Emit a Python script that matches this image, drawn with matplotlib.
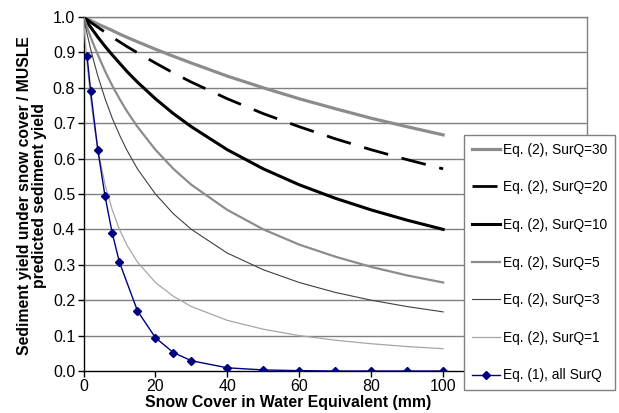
import matplotlib
matplotlib.use("Agg")
import matplotlib.pyplot as plt

plt.rcParams['font.family'] = ['Liberation Sans', 'DejaVu Sans']

# Snow cover (mm) at which Eq. (2) curves were read
snow_eq2 = [0, 0.5, 1, 2, 3, 4, 6, 8, 10, 12, 15, 20, 25, 30, 40, 50, 60, 70, 80, 90, 100]
surq30 = [1.0, 0.998, 0.995, 0.990, 0.985, 0.980, 0.971, 0.962, 0.952, 0.943, 0.930, 0.909, 0.889, 0.870, 0.833, 0.800, 0.769, 0.741, 0.714, 0.690, 0.667]
surq20 = [1.0, 0.996, 0.993, 0.985, 0.978, 0.971, 0.957, 0.943, 0.930, 0.917, 0.899, 0.870, 0.842, 0.816, 0.769, 0.727, 0.690, 0.656, 0.625, 0.597, 0.571]
surq10 = [1.0, 0.993, 0.985, 0.971, 0.957, 0.943, 0.917, 0.893, 0.870, 0.847, 0.816, 0.769, 0.727, 0.690, 0.625, 0.571, 0.526, 0.488, 0.455, 0.426, 0.400]
surq5 = [1.0, 0.985, 0.971, 0.943, 0.917, 0.893, 0.847, 0.806, 0.769, 0.735, 0.690, 0.625, 0.571, 0.526, 0.455, 0.400, 0.357, 0.323, 0.294, 0.270, 0.250]
surq3 = [1.0, 0.976, 0.952, 0.909, 0.870, 0.833, 0.769, 0.714, 0.667, 0.625, 0.571, 0.500, 0.444, 0.400, 0.333, 0.286, 0.250, 0.222, 0.200, 0.182, 0.167]
surq1 = [1.0, 0.930, 0.870, 0.769, 0.690, 0.625, 0.526, 0.455, 0.400, 0.357, 0.308, 0.250, 0.211, 0.182, 0.143, 0.118, 0.100, 0.087, 0.077, 0.069, 0.063]

# Eq. (1) marker points
snow_eq1 = [1, 2, 4, 6, 8, 10, 15, 20, 25, 30, 40, 50, 60, 70, 80, 90, 100]
eq1 = [0.889, 0.790, 0.623, 0.493, 0.389, 0.307, 0.170, 0.094, 0.052, 0.029, 0.009, 0.003, 0.001, 0.0, 0.0, 0.0, 0.0]

x_ticks = [0, 20, 40, 60, 80, 100]
y_ticks = [0.0, 0.1, 0.2, 0.3, 0.4, 0.5, 0.6, 0.7, 0.8, 0.9, 1.0]

fig = plt.figure(figsize=(6.19, 4.13), dpi=100)
ax = fig.add_axes([83.5 / 619, 1 - 371 / 413, (587 - 83.5) / 619, (371 - 17) / 413])

for yv in y_ticks[1:]:
    ax.axhline(yv, color='#808080', lw=1.0, zorder=1)

ax.plot(snow_eq2, surq30, color='#8c8c8c', lw=2.3, label='Eq. (2), SurQ=30', zorder=3)
ax.plot(snow_eq2, surq20, color='black', lw=2.0, dashes=(9, 5), label='Eq. (2), SurQ=20', zorder=3)
ax.plot(snow_eq2, surq10, color='black', lw=2.2, label='Eq. (2), SurQ=10', zorder=3)
ax.plot(snow_eq2, surq5, color='#8c8c8c', lw=1.6, label='Eq. (2), SurQ=5', zorder=3)
ax.plot(snow_eq2, surq3, color='#404040', lw=0.8, label='Eq. (2), SurQ=3', zorder=3)
ax.plot(snow_eq2, surq1, color='#a6a6a6', lw=0.9, label='Eq. (2), SurQ=1', zorder=3)
ax.plot(snow_eq1, eq1, color='#000080', lw=1.0, marker='D', markersize=4.5,
        label='Eq. (1), all SurQ', zorder=4)

ax.set_xlim(0, 140)
ax.set_ylim(0, 1.0)
ax.set_xticks(x_ticks)
ax.set_xticklabels([str(v) for v in x_ticks])
ax.set_yticks(y_ticks)
ax.set_yticklabels([f"{v:.1f}" for v in y_ticks])
ax.tick_params(axis='both', direction='out', length=4, width=1, labelsize=11.5, pad=2)

ax.spines['left'].set_color('black')
ax.spines['bottom'].set_color('black')
ax.spines['top'].set_color('#808080')
ax.spines['right'].set_color('#808080')
for s in ax.spines.values():
    s.set_linewidth(1.0)

fig.text(288 / 619, 1 - 403 / 413, 'Snow Cover in Water Equivalent (mm)', ha='center', va='center',
         fontsize=11.4, fontweight='bold')
fig.text(32 / 619, 1 - 196 / 413, 'Sediment yield under snow cover / MUSLE\npredicted sediment yield',
         rotation=90, ha='center', va='center', fontsize=11.3, fontweight='bold', linespacing=1.05)

leg = fig.legend(loc='upper left', bbox_to_anchor=(464 / 619, 1 - 135 / 413),
                 bbox_transform=fig.transFigure, borderaxespad=0, fontsize=9.9,
                 frameon=True, fancybox=False, framealpha=1, edgecolor='#808080',
                 labelspacing=1.72, handlelength=2.1, handletextpad=0.2, borderpad=0.55)
leg.get_frame().set_linewidth(1.0)

fig.savefig('out.png', dpi=100)
